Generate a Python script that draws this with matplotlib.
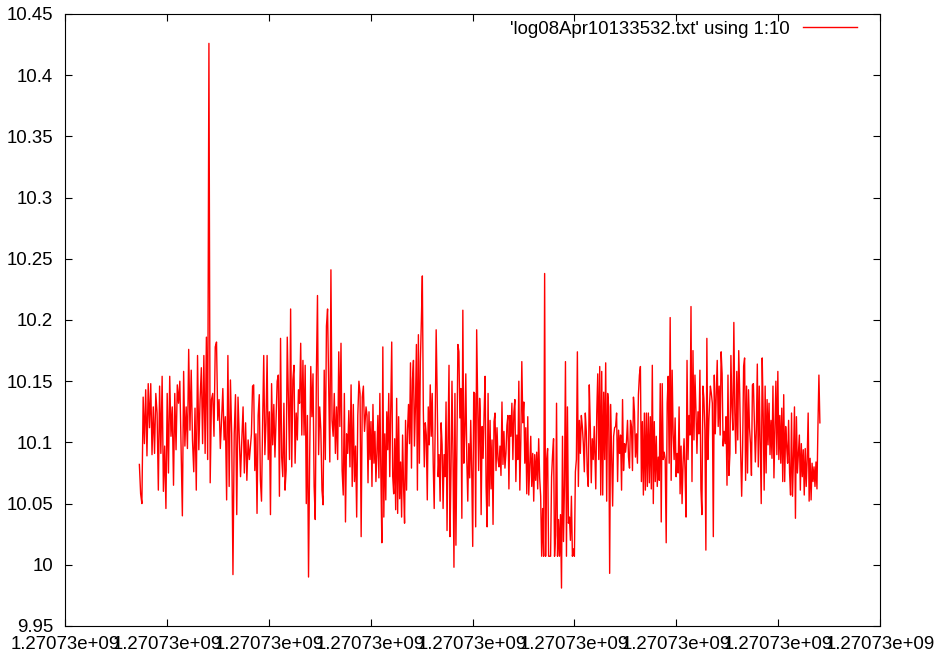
"""Voltage log trace (column 10 vs time), gnuplot look."""

import matplotlib

matplotlib.use("Agg")

import matplotlib.pyplot as plt
import numpy as np
from matplotlib.ticker import FuncFormatter, MultipleLocator

plt.rcParams["font.family"] = ["Liberation Sans", "DejaVu Sans"]

LABEL = "'log08Apr10133532.txt' using 1:10"

# the log is drawn in six stretches, each evenly sampled in time
seg_start = [1270726546, 1270726766, 1270726991, 1270727215, 1270727442, 1270727667]
seg_end = [1270726762, 1270726988, 1270727214, 1270727439, 1270727664, 1270727882]

seg1 = [
    10.082, 10.058, 10.050, 10.137, 10.099, 10.143, 10.089, 10.148, 10.112, 10.148,
    10.090, 10.129, 10.091, 10.140, 10.124, 10.061, 10.146, 10.091, 10.154, 10.060,
    10.097, 10.046, 10.140, 10.075, 10.154, 10.105, 10.129, 10.065, 10.140, 10.094,
    10.147, 10.132, 10.150, 10.097, 10.040, 10.158, 10.097, 10.129, 10.095, 10.176,
    10.110, 10.159, 10.102, 10.076, 10.128, 10.061, 10.171, 10.094, 10.135, 10.161,
    10.099, 10.171, 10.091, 10.186, 10.086, 10.426, 10.067, 10.135, 10.140, 10.105,
    10.178, 10.182, 10.118, 10.135, 10.095, 10.118, 10.144, 10.102, 10.121, 10.053,
    10.171, 10.064, 10.151, 10.107, 9.992, 10.107, 10.139, 10.041, 10.137, 10.105,
    10.072, 10.102, 10.129, 10.075, 10.116, 10.069, 10.102, 10.086,
]
seg2 = [
    10.107, 10.146, 10.147, 10.077, 10.107, 10.042, 10.122, 10.139, 10.069, 10.052,
    10.116, 10.171, 10.090, 10.116, 10.171, 10.086, 10.125, 10.041, 10.148, 10.098,
    10.131, 10.088, 10.118, 10.150, 10.155, 10.056, 10.185, 10.088, 10.072, 10.132,
    10.061, 10.077, 10.186, 10.137, 10.086, 10.209, 10.080, 10.151, 10.163, 10.083,
    10.124, 10.102, 10.143, 10.132, 10.181, 10.106, 10.167, 10.106, 10.163, 10.050,
    10.122, 9.990, 10.086, 10.162, 10.121, 10.156, 10.064, 10.037, 10.155, 10.220,
    10.090, 10.129, 10.110, 10.061, 10.049, 10.159, 10.086, 10.195, 10.209, 10.144,
    10.084, 10.241, 10.118, 10.105, 10.140, 10.091, 10.129, 10.086, 10.174, 10.113,
    10.181, 10.077, 10.057, 10.140, 10.035, 10.107, 10.091, 10.126, 10.080, 10.147,
    10.064, 10.131, 10.068, 10.097, 10.039, 10.122, 10.150, 10.140, 10.023, 10.137,
    10.146, 10.109,
]
seg3 = [
    10.129, 10.122, 10.067, 10.125, 10.086, 10.117, 10.064, 10.131, 10.083, 10.109,
    10.068, 10.091, 10.122, 10.071, 10.140, 10.075, 10.018, 10.178, 10.039, 10.107,
    10.053, 10.125, 10.094, 10.140, 10.072, 10.126, 10.182, 10.072, 10.058, 10.103,
    10.045, 10.136, 10.042, 10.121, 10.054, 10.084, 10.039, 10.106, 10.064, 10.034,
    10.118, 10.061, 10.110, 10.131, 10.099, 10.165, 10.079, 10.151, 10.167, 10.097,
    10.129, 10.180, 10.061, 10.188, 10.083, 10.166, 10.199, 10.236, 10.126, 10.080,
    10.116, 10.106, 10.053, 10.129, 10.098, 10.147, 10.105, 10.140, 10.083, 10.046,
    10.114, 10.192, 10.140, 10.072, 10.090, 10.052, 10.116, 10.098, 10.046, 10.090,
    10.072, 10.133, 10.028, 10.103, 10.163, 10.023, 10.075, 10.150, 10.091, 9.998,
    10.140, 10.016, 10.094, 10.180, 10.174, 10.120, 10.144, 10.038, 10.208, 10.083,
    10.107, 10.156, 10.086, 10.052, 10.099, 10.071, 10.118, 10.076, 10.015, 10.141,
    10.140, 10.031, 10.192, 10.137, 10.077, 10.136,
]
seg4 = [
    10.126, 10.041, 10.113, 10.087, 10.124, 10.154, 10.064, 10.031, 10.140, 10.048,
    10.118, 10.062, 10.102, 10.033, 10.117, 10.124, 10.077, 10.112, 10.086, 10.080,
    10.097, 10.073, 10.133, 10.082, 10.109, 10.079, 10.091, 10.114, 10.122, 10.062,
    10.122, 10.105, 10.132, 10.086, 10.125, 10.135, 10.068, 10.106, 10.086, 10.150,
    10.061, 10.101, 10.166, 10.116, 10.133, 10.083, 10.112, 10.058, 10.121, 10.057,
    10.082, 10.105, 10.064, 10.091, 10.052, 10.090, 10.069, 10.092, 10.062, 10.103,
    10.071, 10.056, 10.007, 10.046, 10.007, 10.238, 10.007, 10.086, 10.095, 10.007,
    10.007, 10.007, 10.072, 10.090, 10.103, 10.007, 10.024, 10.132, 10.007, 10.037,
    10.007, 10.041, 9.981, 10.105, 10.019, 10.065, 10.166, 10.007, 10.129, 10.034,
    10.039, 10.020, 10.056, 10.007, 10.013, 10.007, 10.076, 10.086, 10.174, 10.064,
    10.118, 10.091, 10.122, 10.113, 10.099, 10.076, 10.124, 10.109, 10.075, 10.064,
    10.147, 10.114, 10.067, 10.103, 10.086, 10.113,
]
seg5 = [
    10.062, 10.124, 10.156, 10.086, 10.162, 10.057, 10.158, 10.057, 10.141, 10.086,
    10.165, 10.052, 10.140, 10.129, 9.993, 10.131, 10.088, 10.048, 10.105, 10.112,
    10.113, 10.124, 10.068, 10.110, 10.091, 10.106, 10.061, 10.135, 10.077, 10.099,
    10.092, 10.101, 10.118, 10.088, 10.079, 10.118, 10.113, 10.077, 10.137, 10.125,
    10.088, 10.107, 10.083, 10.139, 10.155, 10.162, 10.068, 10.117, 10.057, 10.124,
    10.061, 10.124, 10.064, 10.124, 10.067, 10.121, 10.062, 10.163, 10.050, 10.117,
    10.068, 10.105, 10.064, 10.088, 10.069, 10.148, 10.035, 10.148, 10.086, 10.092,
    10.086, 10.018, 10.132, 10.154, 10.083, 10.202, 10.069, 10.159, 10.107, 10.086,
    10.120, 10.072, 10.091, 10.075, 10.129, 10.058, 10.097, 10.050, 10.083, 10.103,
    10.077, 10.039, 10.167, 10.086, 10.122, 10.106, 10.211, 10.068, 10.175, 10.102,
    10.155, 10.126, 10.091, 10.125, 10.107, 10.159, 10.062, 10.041, 10.146, 10.136,
    10.110, 10.012, 10.185, 10.086, 10.118,
]
seg6 = [
    10.146, 10.140, 10.132, 10.023, 10.155, 10.107, 10.139, 10.167, 10.113, 10.146,
    10.106, 10.174, 10.156, 10.097, 10.109, 10.099, 10.121, 10.065, 10.155, 10.073,
    10.091, 10.171, 10.129, 10.110, 10.198, 10.124, 10.091, 10.158, 10.102, 10.175,
    10.140, 10.091, 10.056, 10.097, 10.162, 10.169, 10.069, 10.146, 10.075, 10.143,
    10.112, 10.099, 10.073, 10.147, 10.148, 10.116, 10.084, 10.110, 10.164, 10.080,
    10.146, 10.099, 10.050, 10.169, 10.124, 10.061, 10.146, 10.075, 10.135, 10.098,
    10.132, 10.090, 10.118, 10.087, 10.146, 10.071, 10.110, 10.150, 10.090, 10.158,
    10.086, 10.122, 10.083, 10.128, 10.068, 10.139, 10.068, 10.113, 10.097, 10.083,
    10.118, 10.075, 10.057, 10.124, 10.056, 10.088, 10.129, 10.038, 10.121, 10.075,
    10.091, 10.106, 10.061, 10.099, 10.072, 10.094, 10.057, 10.095, 10.064, 10.086,
    10.124, 10.052, 10.087, 10.053, 10.083, 10.068, 10.080, 10.064, 10.084, 10.062,
    10.113, 10.155, 10.116,
]

segments = [seg1, seg2, seg3, seg4, seg5, seg6]
times = np.concatenate(
    [np.linspace(t0, t1, len(s)) for t0, t1, s in zip(seg_start, seg_end, segments)]
)
values = np.concatenate([np.asarray(s, dtype=float) for s in segments])

fig = plt.figure(figsize=(9.41, 6.61), dpi=100)
ax = fig.add_axes([65 / 941, 35 / 661, 815 / 941, 612 / 661])

ax.plot(times, values, color="#ff0000", lw=1.0, label=LABEL)

ax.set_xlim(1270726400, 1270728000)
ax.set_ylim(9.95, 10.45)
ax.xaxis.set_major_locator(MultipleLocator(200))
ax.yaxis.set_major_locator(MultipleLocator(0.05))
fmt = FuncFormatter(lambda v, _: "%g" % v)
ax.xaxis.set_major_formatter(fmt)
ax.yaxis.set_major_formatter(fmt)

for sp in ax.spines.values():
    sp.set_linewidth(0.8)
ax.tick_params(direction="in", length=5, width=0.8, top=True, right=True,
               labelsize=13.4, colors="black")
ax.tick_params(axis="y", pad=8.5)
ax.tick_params(axis="x", pad=7)

ax.legend(loc="upper right", frameon=False, markerfirst=False,
          handlelength=2.9, handletextpad=0.7, borderpad=0, borderaxespad=0,
          bbox_to_anchor=(0.972, 0.989), fontsize=13.4)

fig.savefig("out.png", dpi=100)
plt.close(fig)
